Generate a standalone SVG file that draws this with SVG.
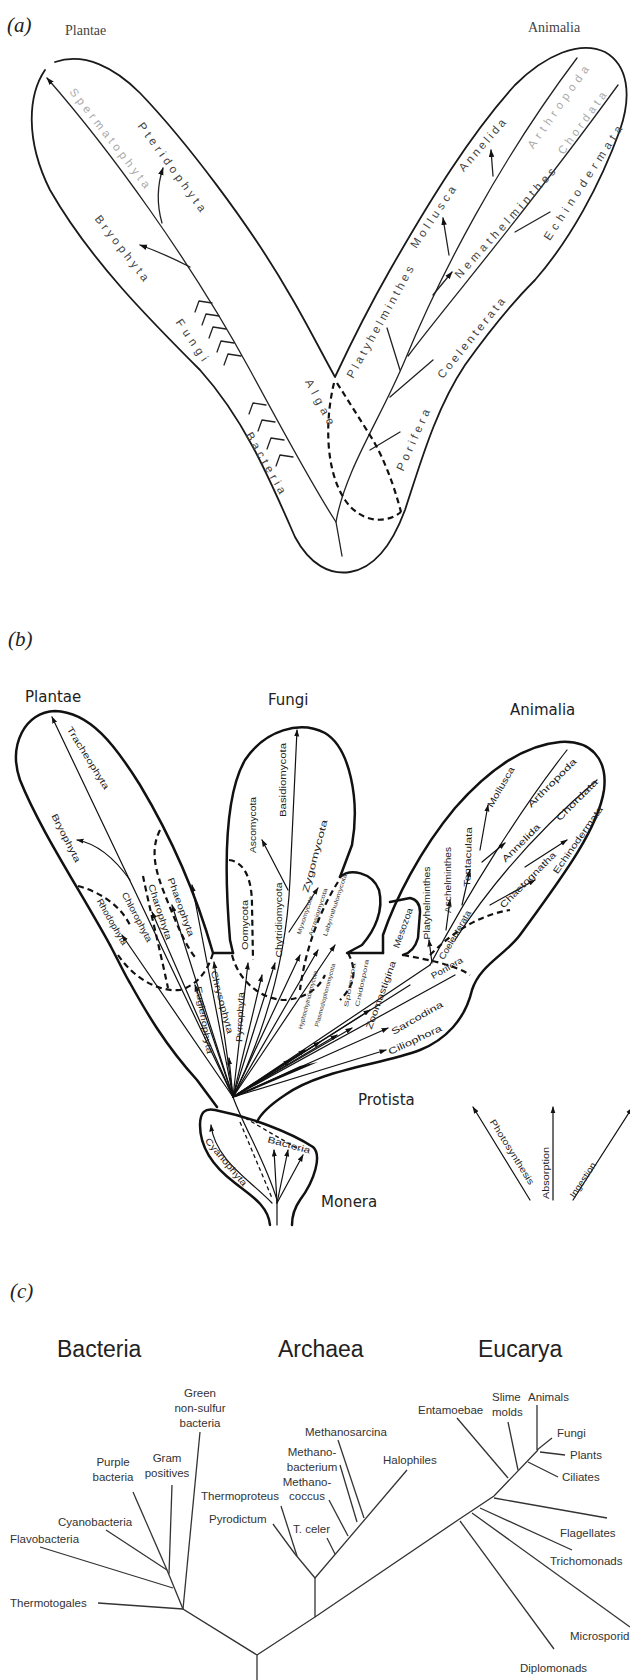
<svg xmlns="http://www.w3.org/2000/svg" width="630" height="1680" viewBox="0 0 630 1680">
<defs>
<marker id="ah" viewBox="0 0 10 10" refX="9" refY="5" markerWidth="6" markerHeight="6" orient="auto-start-reverse"><path d="M0,1.5 L10,5 L0,8.5 Z" fill="#111"/></marker>
<style>
.o{fill:none;stroke:#1a1a1a;stroke-width:1.8;stroke-linecap:round;stroke-linejoin:round}
.ob{fill:none;stroke:#111;stroke-width:2.5;stroke-linecap:round;stroke-linejoin:round}
.l{fill:none;stroke:#222;stroke-width:1.3;stroke-linecap:round;stroke-linejoin:round}
.f{fill:none;stroke:#111;stroke-width:1.2;stroke-linecap:round}
.d{fill:none;stroke:#111;stroke-width:2.2;stroke-dasharray:6 4}
.dt{fill:none;stroke:#111;stroke-width:1.3;stroke-dasharray:4 3}
.lc{fill:none;stroke:#333;stroke-width:1.3}
.pl{font-family:"Liberation Serif","Times New Roman",serif;font-style:italic;font-size:21px;fill:#222}
.ka{font-family:"Liberation Serif",serif;font-size:14px;fill:#444}
.ta{font-family:"Liberation Sans",Arial,sans-serif;font-size:11.5px;fill:#444;text-anchor:middle}
.tf{font-family:"Liberation Sans",Arial,sans-serif;font-size:11.5px;fill:#aaa;text-anchor:middle}
.kb{font-family:"DejaVu Sans",Verdana,sans-serif;font-size:15px;fill:#222}
.tb{font-family:"Liberation Sans",Arial,sans-serif;font-size:9px;fill:#222;text-anchor:middle}
.ts{font-family:"Liberation Sans",Arial,sans-serif;font-size:6px;fill:#333;text-anchor:middle}
.kc{font-family:"Liberation Sans",Arial,sans-serif;font-size:23px;fill:#222}
.tc{font-family:"Liberation Sans",Arial,sans-serif;font-size:11.5px;fill:#333}
.tcm{font-family:"Liberation Sans",Arial,sans-serif;font-size:11.5px;fill:#333;text-anchor:middle}
</style>
</defs>
<rect width="630" height="1680" fill="#fff"/>

<!-- ===== (a) ===== -->
<g id="a-titles">
<text class="pl" x="7" y="32">(a)</text>
<text class="ka" x="65" y="35">Plantae</text>
<text class="ka" x="528" y="32">Animalia</text>
</g>
<g id="a-outline">
<path class="o" d="M45,70 C28,95 25,140 50,190 C90,260 150,320 200,370 C245,420 270,480 295,537 C310,565 330,575 350,572 C375,568 392,545 405,510 C420,465 435,410 465,365 C490,330 515,300 535,280 C570,240 600,185 620,130 C632,95 628,65 605,52 C580,40 545,55 515,85 C470,135 430,200 390,270 C370,305 350,345 335,377 C320,350 305,320 290,295 C250,225 185,140 140,93 C115,68 85,52 55,62"/>
</g>
<g id="a-connectors">
<path class="l" marker-start="url(#ah)" d="M47,78 C110,150 190,260 250,370 C285,435 315,490 336,522 L342,556"/>
<path class="l" marker-end="url(#ah)" d="M162,223 Q154,195 163,168"/>
<path class="l" marker-end="url(#ah)" d="M190,267 Q165,254 140,245"/>
<g class="l">
<path d="M212,303 L199,301 L195,312"/><path d="M219,316 L206,314 L202,325"/><path d="M226,329 L213,327 L209,338"/><path d="M234,343 L221,341 L217,352"/><path d="M241,356 L228,354 L224,365"/>
<path d="M266,405 L253,403 L249,414"/><path d="M275,422 L262,420 L258,431"/><path d="M284,440 L271,438 L267,449"/><path d="M293,457 L280,455 L276,466"/>
</g>
<path class="l" d="M336,522 C345,470 380,420 405,360 C440,275 500,160 577,58"/>
<path class="l" d="M408,356 C450,300 520,220 618,85"/>
<path class="l" marker-end="url(#ah)" d="M449,255 L443,218"/>
<path class="l" marker-end="url(#ah)" d="M493,176 L491,150"/>
<path class="l" marker-end="url(#ah)" d="M433,295 L452,272"/>
<path class="l" d="M515,232 L550,212"/>
<path class="l" d="M400,370 L387,328"/>
<path class="l" d="M390,397 L433,360"/>
<path class="l" d="M370,450 L400,432"/>
<path class="d" d="M334,383 C325,420 325,470 345,500 C360,522 385,525 401,512"/>
<path class="d" d="M337,383 L373,440 Q390,470 401,512"/>
</g>
<g id="a-labels">
<text class="tf" transform="translate(110,138) rotate(52)" dy="4" textLength="123" lengthAdjust="spacing">Spermatophyta</text>
<text class="ta" transform="translate(172,167) rotate(54)" dy="4" textLength="107" lengthAdjust="spacing">Pteridophyta</text>
<text class="ta" transform="translate(122,248) rotate(52)" dy="4" textLength="80" lengthAdjust="spacing">Bryophyta</text>
<text class="ta" transform="translate(192,340) rotate(56)" dy="4" textLength="48" lengthAdjust="spacing">Fungi</text>
<text class="ta" transform="translate(266,463) rotate(60)" dy="4" textLength="69" lengthAdjust="spacing">Bacteria</text>
<text class="ta" transform="translate(320,402) rotate(62)" dy="4" textLength="50" lengthAdjust="spacing">Algae</text>
<text class="ta" transform="translate(380,322) rotate(-61)" dy="4" textLength="126" lengthAdjust="spacing">Platyhelminthes</text>
<text class="ta" transform="translate(433,217) rotate(-56)" dy="4" textLength="72" lengthAdjust="spacing">Mollusca</text>
<text class="ta" transform="translate(482,145) rotate(-49)" dy="4" textLength="65" lengthAdjust="spacing">Annelida</text>
<text class="tf" transform="translate(558,107) rotate(-55)" dy="4" textLength="98" lengthAdjust="spacing">Arthropoda</text>
<text class="tf" transform="translate(582,123) rotate(-54)" dy="4" textLength="74" lengthAdjust="spacing">Chordata</text>
<text class="ta" transform="translate(505,223) rotate(-48)" dy="4" textLength="144" lengthAdjust="spacing">Nemathelminthes</text>
<text class="ta" transform="translate(583,183) rotate(-57)" dy="4" textLength="134" lengthAdjust="spacing">Echinodermata</text>
<text class="ta" transform="translate(471,338) rotate(-51)" dy="4" textLength="100" lengthAdjust="spacing">Coelenterata</text>
<text class="ta" transform="translate(413,440) rotate(-66)" dy="4" textLength="66" lengthAdjust="spacing">Porifera</text>
</g>

<!-- ===== (b) ===== -->
<g id="b-titles">
<text class="pl" x="8" y="646">(b)</text>
<text class="kb" x="25" y="702">Plantae</text>
<text class="kb" x="268" y="705">Fungi</text>
<text class="kb" x="510" y="715">Animalia</text>
<text class="kb" x="358" y="1105">Protista</text>
<text class="kb" x="321" y="1207">Monera</text>
</g>
<g id="b-outline">
<path class="ob" d="M110,945 C80,890 40,830 20,780 C8,745 25,712 55,711 C90,712 115,745 140,785 C170,835 195,890 213,953 L233,953"/>
<path class="ob" d="M233,953 L230,940 C225,880 222,800 245,760 C265,730 300,720 325,733 C350,748 360,800 352,845 L340,877"/>
<path class="ob" d="M340,877 C350,868 372,872 379,890 C384,910 375,930 362,945 L347,953 L383,953"/>
<path class="ob" d="M383,953 L383,935 C395,900 420,850 455,808 C490,768 525,745 560,742 C590,740 608,758 604,790 C598,830 560,880 520,935 C505,955 480,965 472,990 C465,1020 445,1040 420,1050 C380,1065 320,1070 285,1095 C270,1105 260,1115 257,1122"/>
<path class="ob" d="M390,902 L410,898 Q420,900 420,912 L418,938 Q414,952 403,955"/>
<path class="ob" d="M110,945 C118,960 125,975 130,983 C145,1010 165,1045 197,1080 L217,1107"/>
<path class="ob" d="M270,1225 C268,1205 250,1195 235,1183 C215,1168 200,1150 200,1125 C200,1112 205,1108 215,1110 C250,1117 290,1132 313,1147 C322,1155 315,1180 300,1200 C293,1210 292,1218 292,1225"/>
</g>
<g id="b-connectors">
<path class="d" d="M160,830 C150,850 155,870 165,895 C175,920 185,945 195,957"/>
<path class="d" d="M78,886 C100,892 120,905 130,925"/>
<path class="d" d="M118,955 C135,980 160,992 180,990 C198,985 208,970 213,953"/>
<path class="d" d="M143,876 C150,910 160,950 168,988"/>
<path class="d" d="M229,860 C245,862 252,880 252,905 L253,960"/>
<path class="d" d="M232,955 C240,985 265,1000 285,1000 C305,998 318,990 325,975"/>
<path class="d" d="M338,882 C320,910 305,950 300,990"/>
<path class="d" d="M403,955 C430,960 455,965 470,975"/>
<path class="d" d="M430,955 C455,930 480,915 510,910"/>
<path class="d" d="M348,953 C360,975 350,990 340,1000"/>
<!-- fan -->
<path d="M231,1098 L300,1066 L318,1062 L236,1097 Z" fill="#111"/>
<path class="f" marker-end="url(#ah)" d="M233,1097 L52,717"/>
<path class="f" marker-end="url(#ah)" d="M130,880 Q105,845 77,840"/>
<path class="f" marker-end="url(#ah)" d="M233,1097 L122,935"/>
<path class="f" marker-end="url(#ah)" d="M233,1097 L152,912"/>
<path class="f" marker-end="url(#ah)" d="M233,1097 L172,905"/>
<path class="f" marker-end="url(#ah)" d="M233,1097 L192,885"/>
<path class="f" marker-end="url(#ah)" d="M233,1097 L195,985"/>
<path class="f" marker-end="url(#ah)" d="M233,1097 L214,962"/>
<path class="f" marker-end="url(#ah)" d="M233,1097 L229,1058"/>
<path class="f" marker-end="url(#ah)" d="M233,1097 L248,963"/>
<path class="f" marker-end="url(#ah)" d="M233,1097 L262,975"/>
<path class="f" marker-end="url(#ah)" d="M233,1097 L275,963"/>
<path class="f" marker-end="url(#ah)" d="M233,1097 Q285,990 290,880 L297,730"/>
<path class="f" marker-end="url(#ah)" d="M288,890 L262,840"/>
<path class="f" marker-end="url(#ah)" d="M289,932 L318,888"/>
<path class="f" marker-end="url(#ah)" d="M233,1097 L300,955"/>
<path class="f" marker-end="url(#ah)" d="M233,1097 L318,950"/>
<path class="f" marker-end="url(#ah)" d="M233,1097 L335,945"/>
<path class="f" marker-end="url(#ah)" d="M233,1097 L290,1060"/>
<path class="f" marker-end="url(#ah)" d="M233,1097 L305,1050"/>
<path class="f" marker-end="url(#ah)" d="M233,1097 L320,1042"/>
<path class="f" marker-end="url(#ah)" d="M233,1097 L337,1035"/>
<path class="f" marker-end="url(#ah)" d="M233,1097 L352,1028"/>
<path class="f" marker-end="url(#ah)" d="M233,1097 L370,1010"/>
<path class="f" marker-end="url(#ah)" d="M233,1097 L388,1028"/>
<path class="f" marker-end="url(#ah)" d="M233,1097 L386,1050"/>
<path class="f" d="M233,1097 L430,965"/>
<path class="f" d="M233,1097 L455,975"/>
<path class="f" d="M233,1097 L410,985"/>
<!-- animalia -->
<path class="f" d="M430,965 C470,890 520,810 567,750"/>
<path class="f" d="M455,940 C500,870 550,820 597,780"/>
<path class="f" marker-end="url(#ah)" d="M480,850 L488,805"/>
<path class="f" marker-end="url(#ah)" d="M482,862 L505,843"/>
<path class="f" marker-end="url(#ah)" d="M462,905 L470,870"/>
<path class="f" marker-end="url(#ah)" d="M446,930 L450,900"/>
<path class="f" marker-end="url(#ah)" d="M432,963 L429,940"/>
<path class="f" marker-end="url(#ah)" d="M525,867 L567,840"/>
<path class="f" marker-end="url(#ah)" d="M490,905 L535,880"/>
<!-- monera -->
<path class="f" d="M277,1225 L277,1200 C265,1160 245,1130 233,1097"/>
<path class="f" marker-end="url(#ah)" d="M277,1203 L288,1150"/>
<path class="f" marker-end="url(#ah)" d="M277,1203 L303,1155"/>
<path class="f" marker-end="url(#ah)" d="M277,1203 L274,1150"/>
<path class="f" marker-end="url(#ah)" d="M272,1203 C250,1180 215,1160 211,1125"/>
<path class="dt" d="M240,1122 L272,1198"/>
<path class="dt" d="M245,1118 L300,1150"/>
</g>
<g id="b-labels">
<text class="tb" transform="translate(88,758) rotate(58)" dy="3" textLength="72" lengthAdjust="spacingAndGlyphs">Tracheophyta</text>
<text class="tb" transform="translate(66,838) rotate(63)" dy="3" textLength="53" lengthAdjust="spacingAndGlyphs">Bryophyta</text>
<text class="tb" transform="translate(181,907) rotate(70)" dy="3" textLength="62" lengthAdjust="spacingAndGlyphs">Phaeophyta</text>
<text class="tb" transform="translate(160,912) rotate(72)" dy="3" textLength="58" lengthAdjust="spacingAndGlyphs">Charophyta</text>
<text class="tb" transform="translate(137,917) rotate(62)" dy="3" textLength="55" lengthAdjust="spacingAndGlyphs">Chlorophyta</text>
<text class="tb" transform="translate(112,922) rotate(60)" dy="3" textLength="52" lengthAdjust="spacingAndGlyphs">Rhodophyta</text>
<text class="tb" transform="translate(204,1020) rotate(80)" dy="3" textLength="68" lengthAdjust="spacingAndGlyphs">Euglenophyta</text>
<text class="tb" transform="translate(222,1002) rotate(75)" dy="3" textLength="65" lengthAdjust="spacingAndGlyphs">Chrysophyta</text>
<text class="tb" transform="translate(240,1017) rotate(-88)" dy="3" textLength="50" lengthAdjust="spacingAndGlyphs">Pyrrophyta</text>
<text class="tb" transform="translate(245,925) rotate(-90)" dy="3" textLength="50" lengthAdjust="spacingAndGlyphs">Oomycota</text>
<text class="tb" transform="translate(279,920) rotate(-90)" dy="3" textLength="75" lengthAdjust="spacingAndGlyphs">Chytridiomycota</text>
<text class="tb" transform="translate(253,825) rotate(-90)" dy="3" textLength="56" lengthAdjust="spacingAndGlyphs">Ascomycota</text>
<text class="tb" transform="translate(283,780) rotate(-90)" dy="3" textLength="74" lengthAdjust="spacingAndGlyphs">Basidiomycota</text>
<text class="tb" transform="translate(315,856) rotate(-75)" dy="3" textLength="75" lengthAdjust="spacingAndGlyphs">Zygomycota</text>
<text class="ts" transform="translate(305,915) rotate(-72)" dy="2" textLength="40" lengthAdjust="spacingAndGlyphs">Myxomycota</text>
<text class="ts" transform="translate(318,912) rotate(-72)" dy="2" textLength="50" lengthAdjust="spacingAndGlyphs">Acrasiomycota</text>
<text class="ts" transform="translate(335,905) rotate(-72)" dy="2" textLength="65" lengthAdjust="spacingAndGlyphs">Labyrinthulomycota</text>
<text class="ts" transform="translate(308,1000) rotate(-75)" dy="2" textLength="60" lengthAdjust="spacingAndGlyphs">Hyphochytridiomycota</text>
<text class="ts" transform="translate(325,995) rotate(-75)" dy="2" textLength="65" lengthAdjust="spacingAndGlyphs">Plasmodiophoromycota</text>
<text class="ts" transform="translate(350,985) rotate(-80)" dy="2" textLength="45" lengthAdjust="spacingAndGlyphs">Sporozoa</text>
<text class="ts" transform="translate(362,983) rotate(-78)" dy="2" textLength="48" lengthAdjust="spacingAndGlyphs">Cnidospora</text>
<text class="tb" transform="translate(381,995) rotate(-70)" dy="3" textLength="72" lengthAdjust="spacingAndGlyphs">Zoomastigina</text>
<text class="tb" transform="translate(417,1018) rotate(-30)" dy="3" textLength="58" lengthAdjust="spacingAndGlyphs">Sarcodina</text>
<text class="tb" transform="translate(415,1040) rotate(-25)" dy="3" textLength="58" lengthAdjust="spacingAndGlyphs">Ciliophora</text>
<text class="tb" transform="translate(403,928) rotate(-70)" dy="3" textLength="42" lengthAdjust="spacingAndGlyphs">Mesozoa</text>
<text class="tb" transform="translate(427,903) rotate(-90)" dy="3" textLength="73" lengthAdjust="spacingAndGlyphs">Platyhelminthes</text>
<text class="tb" transform="translate(448,880) rotate(-90)" dy="3" textLength="66" lengthAdjust="spacingAndGlyphs">Aschelminthes</text>
<text class="tb" transform="translate(468,857) rotate(-88)" dy="3" textLength="60" lengthAdjust="spacingAndGlyphs">Tentaculata</text>
<text class="tb" transform="translate(501,787) rotate(-60)" dy="3" textLength="45" lengthAdjust="spacingAndGlyphs">Mollusca</text>
<text class="tb" transform="translate(552,783) rotate(-45)" dy="3" textLength="65" lengthAdjust="spacingAndGlyphs">Arthropoda</text>
<text class="tb" transform="translate(577,800) rotate(-45)" dy="3" textLength="55" lengthAdjust="spacingAndGlyphs">Chordata</text>
<text class="tb" transform="translate(521,843) rotate(-45)" dy="3" textLength="50" lengthAdjust="spacingAndGlyphs">Annelida</text>
<text class="tb" transform="translate(528,880) rotate(-45)" dy="3" textLength="75" lengthAdjust="spacingAndGlyphs">Chaetognatha</text>
<text class="tb" transform="translate(578,840) rotate(-55)" dy="3" textLength="80" lengthAdjust="spacingAndGlyphs">Echinodermata</text>
<text class="tb" transform="translate(455,935) rotate(-60)" dy="3" textLength="55" lengthAdjust="spacingAndGlyphs">Coelenterata</text>
<text class="tb" transform="translate(447,968) rotate(-30)" dy="3" textLength="35" lengthAdjust="spacingAndGlyphs">Porifera</text>
<text class="tb" transform="translate(289,1145) rotate(15)" dy="3" textLength="44" lengthAdjust="spacingAndGlyphs">Bacteria</text>
<text class="tb" transform="translate(226,1162) rotate(50)" dy="3" textLength="60" lengthAdjust="spacingAndGlyphs">Cyanophyta</text>
</g>
<g id="b-modes">
<path class="f" marker-end="url(#ah)" d="M530,1200 L473,1107"/>
<path class="f" marker-end="url(#ah)" d="M553,1200 L553,1107"/>
<path class="f" marker-end="url(#ah)" d="M573,1200 L632,1108"/>
<text class="tb" transform="translate(512,1152) rotate(58)" dy="3" textLength="75" lengthAdjust="spacingAndGlyphs">Photosynthesis</text>
<text class="tb" transform="translate(546,1173) rotate(-90)" dy="3" textLength="52" lengthAdjust="spacingAndGlyphs">Absorption</text>
<text class="tb" transform="translate(583,1180) rotate(-57)" dy="3" textLength="40" lengthAdjust="spacingAndGlyphs">Ingestion</text>
</g>

<!-- ===== (c) ===== -->
<g id="c-titles">
<text class="pl" x="10" y="1298">(c)</text>
<text class="kc" x="57" y="1357">Bacteria</text>
<text class="kc" x="278" y="1357">Archaea</text>
<text class="kc" x="478" y="1357">Eucarya</text>
</g>
<g id="c-connectors" class="lc">
<path d="M257,1680 L257,1655 L183,1609 L167,1570"/>
<path d="M98,1603 L183,1609"/>
<path d="M40,1547 L173,1588"/>
<path d="M106,1530 L167,1570"/>
<path d="M133,1492 L167,1570"/>
<path d="M172,1485 L169,1574"/>
<path d="M200,1432 L183,1609"/>
<path d="M257,1655 L315,1617 L315,1578"/>
<path d="M315,1578 L295,1554"/>
<path d="M281,1506 L297,1556"/>
<path d="M273,1524 L295,1554"/>
<path d="M315,1578 L407,1470"/>
<path d="M327,1538 L335,1554"/>
<path d="M329,1500 L348,1536"/>
<path d="M340,1465 L357,1522"/>
<path d="M338,1440 L364,1518"/>
<path d="M315,1617 L458,1520 L494,1496 L538,1450"/>
<path d="M494,1498 L607,1518"/>
<path d="M480,1508 L572,1550"/>
<path d="M472,1513 L630,1627"/>
<path d="M460,1521 L554,1649"/>
<path d="M457,1418 L508,1478"/>
<path d="M508,1422 L518,1470"/>
<path d="M537,1405 L537,1450"/>
<path d="M552,1438 L537,1450"/>
<path d="M540,1452 L565,1455"/>
<path d="M528,1462 L558,1477"/>
</g>
<g id="c-labels">
<text class="tcm" x="200" y="1397">Green</text>
<text class="tcm" x="200" y="1412">non-sulfur</text>
<text class="tcm" x="200" y="1427">bacteria</text>
<text class="tcm" x="113" y="1466">Purple</text>
<text class="tcm" x="113" y="1481">bacteria</text>
<text class="tcm" x="167" y="1462">Gram</text>
<text class="tcm" x="167" y="1477">positives</text>
<text class="tc" x="58" y="1526">Cyanobacteria</text>
<text class="tc" x="10" y="1543">Flavobacteria</text>
<text class="tc" x="10" y="1607">Thermotogales</text>
<text class="tc" x="201" y="1500">Thermoproteus</text>
<text class="tc" x="209" y="1523">Pyrodictum</text>
<text class="tc" x="293" y="1533">T. celer</text>
<text class="tcm" x="307" y="1486">Methano-</text>
<text class="tcm" x="307" y="1500">coccus</text>
<text class="tcm" x="312" y="1456">Methano-</text>
<text class="tcm" x="312" y="1471">bacterium</text>
<text class="tc" x="305" y="1436">Methanosarcina</text>
<text class="tc" x="383" y="1464">Halophiles</text>
<text class="tc" x="418" y="1414">Entamoebae</text>
<text class="tc" x="492" y="1401">Slime</text>
<text class="tc" x="492" y="1416">molds</text>
<text class="tc" x="528" y="1401">Animals</text>
<text class="tc" x="557" y="1437">Fungi</text>
<text class="tc" x="570" y="1459">Plants</text>
<text class="tc" x="562" y="1481">Ciliates</text>
<text class="tc" x="560" y="1537">Flagellates</text>
<text class="tc" x="550" y="1565">Trichomonads</text>
<text class="tc" x="570" y="1640">Microsporidia</text>
<text class="tc" x="520" y="1672">Diplomonads</text>
</g>
</svg>
